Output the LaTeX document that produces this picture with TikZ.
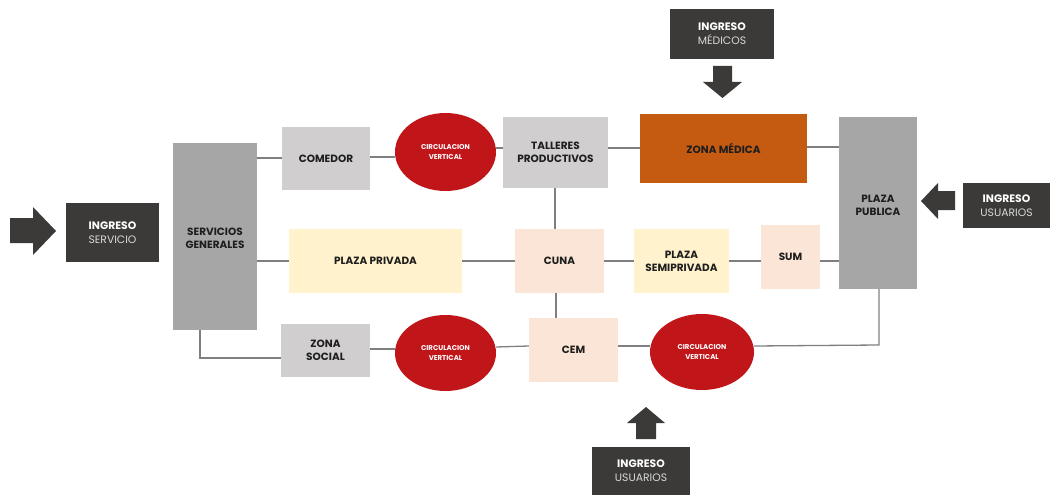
\documentclass[tikz,border=0pt]{standalone}
\usepackage{fontspec}
\setmainfont{Poppins}
\usetikzlibrary{shapes.geometric}
\definecolor{dark}{HTML}{3B3A39}
\definecolor{grayA}{HTML}{A6A6A6}
\definecolor{grayB}{HTML}{D0CECE}
\definecolor{redC}{HTML}{C0161A}
\definecolor{orangeM}{HTML}{C55A11}
\definecolor{yellowP}{HTML}{FFF2CC}
\definecolor{peach}{HTML}{FBE5D6}
\definecolor{lineG}{HTML}{7F7F7F}
\definecolor{txt}{HTML}{1E1E1E}
\definecolor{lightT}{HTML}{D9D9D9}
\tikzset{
  box/.style={rectangle, inner sep=0pt, align=center, font=\fontsize{10.5}{13}\selectfont\bfseries, text=txt},
  ingreso/.style={box, fill=dark, text=white, font=\fontsize{10.8}{14}\selectfont},
  circ/.style={ellipse, fill=redC, inner sep=0pt, align=center, text=white, font=\fontsize{7}{9.5}\selectfont\bfseries},
  conn/.style={draw=lineG, line width=1.3pt},
  bigarrow/.style={fill=dark, draw=none},
}
\newcommand{\ing}[1]{{\bfseries INGRESO}\\{\mdseries\color{lightT}#1}}
\begin{document}
\begin{tikzpicture}[x=1pt,y=-1pt]
\useasboundingbox (0,0) rectangle (1050,495);
\node[ingreso, minimum width=93pt, minimum height=59pt] (is) at (112.5,232.5) {\ing{SERVICIO}};
\node[ingreso, minimum width=104pt, minimum height=50pt] (im) at (722,34) {\ing{MÉDICOS}};
\node[ingreso, minimum width=87pt, minimum height=45pt] (iu) at (1006.5,205.5) {\ing{USUARIOS}};
\node[ingreso, minimum width=98pt, minimum height=48pt] (ib) at (641,471) {\ing{USUARIOS}};

\node[box, fill=grayA, minimum width=84pt, minimum height=187pt] (sg) at (215,236.5) {};
\node[box] (sgt) at (215,238) {SERVICIOS\\GENERALES};
\node[box, fill=grayB, minimum width=88pt, minimum height=63pt] (com) at (326,158.5) {COMEDOR};
\node[circ, minimum width=101pt, minimum height=78pt] (c1) at (445.5,152) {CIRCULACION\\VERTICAL};
\node[box, fill=grayB, minimum width=105pt, minimum height=71pt] (tal) at (555.5,152.5) {TALLERES\\PRODUCTIVOS};
\node[box, fill=orangeM, minimum width=167pt, minimum height=69pt] (zm) at (723.5,148.5) {ZONA MÉDICA};
\node[box, fill=grayA, minimum width=78pt, minimum height=172pt] (pp) at (878,203) {};
\node[box] (ppt) at (878,205) {PLAZA\\PUBLICA};

\node[box, fill=yellowP, minimum width=173pt, minimum height=64pt] (ppr) at (375.5,261) {PLAZA PRIVADA};
\node[box, fill=peach, minimum width=89pt, minimum height=64pt] (cuna) at (559.5,261) {CUNA};
\node[box, fill=yellowP, minimum width=95pt, minimum height=64pt] (psp) at (681.5,261) {PLAZA\\SEMIPRIVADA};
\node[box, fill=peach, minimum width=59pt, minimum height=64pt] (sum) at (790.5,257) {SUM};

\node[box, fill=grayB, minimum width=89pt, minimum height=53pt] (zs) at (325.5,350.5) {ZONA\\SOCIAL};
\node[circ, minimum width=101pt, minimum height=76pt] (c2) at (445.5,353) {CIRCULACION\\VERTICAL};
\node[box, fill=peach, minimum width=89pt, minimum height=64pt] (cem) at (573.5,350) {CEM};
\node[circ, minimum width=104pt, minimum height=76pt] (c3) at (702,352) {CIRCULACION\\VERTICAL};

% connectors
\path[conn] (sg.east |- 0,158) -- (com.west |- 0,158);
\path[conn] (com.east |- 0,157) -- (c1.west |- 0,157);
\path[conn] (c1.east |- 0,148) -- (tal.west |- 0,148);
\path[conn] (tal.east |- 0,148) -- (zm.west |- 0,148);
\path[conn] (zm.east |- 0,147) -- (pp.west |- 0,147);
\path[conn] (sg.east |- 0,261) -- (ppr.west |- 0,261);
\path[conn] (ppr.east |- 0,261) -- (cuna.west |- 0,261);
\path[conn] (cuna.east |- 0,261) -- (psp.west |- 0,261);
\path[conn] (psp.east |- 0,261) -- (sum.west |- 0,261);
\path[conn] (sum.east |- 0,261) -- (pp.west |- 0,261);
\path[conn] (tal.south -| 555,0) -- (cuna.north -| 555,0);
\path[conn] (cuna.south -| 556,0) -- (cem.north -| 556,0);
\path[conn] (sg.south -| 200,0) -- (200,358) -- (zs.west |- 0,358);
\path[conn] (zs.east |- 0,349) -- (c2.west |- 0,349);
\path[conn] (c2.east |- 0,347) -- (cem.west |- 0,346);
\path[conn] (cem.east |- 0,346) -- (c3.west |- 0,346);
\path[conn] (c3.east |- 0,346) -- (879,345) -- (pp.south -| 879,0);

% big arrows
\fill[bigarrow] (10,218) -- (33,218) -- (33,207) -- (56,231) -- (33,255) -- (33,243) -- (10,243) -- cycle;
\fill[bigarrow] (713,66) -- (732,66) -- (732,82) -- (742,82) -- (722.5,98) -- (703,82) -- (713,82) -- cycle;
\fill[bigarrow] (955,191) -- (938,191) -- (938,183) -- (921,201) -- (938,219) -- (938,210) -- (955,210) -- cycle;
\fill[bigarrow] (636,439) -- (656,439) -- (656,423) -- (665,423) -- (646,407) -- (627,423) -- (636,423) -- cycle;
\end{tikzpicture}
\end{document}
